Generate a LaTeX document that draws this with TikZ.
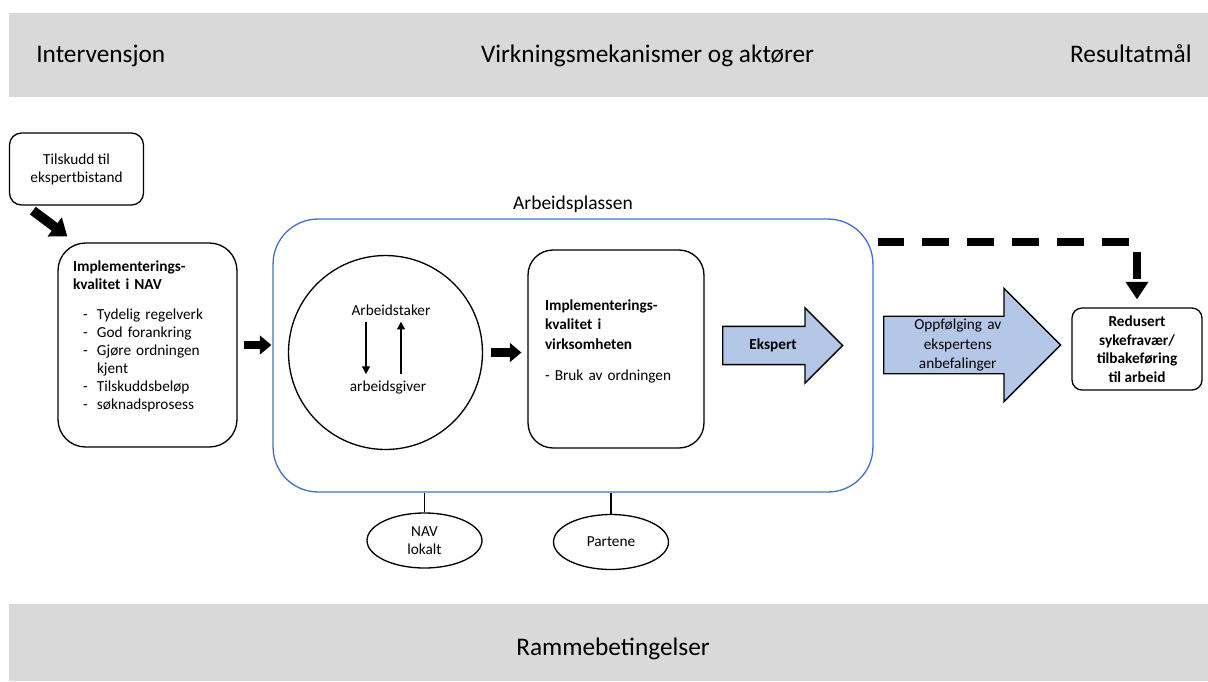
\documentclass[tikz,border=0pt]{standalone}
\usepackage{fontspec}
\setmainfont{Carlito}
\usepackage{tikz}
\usetikzlibrary{arrows.meta, positioning, shapes.geometric, shapes.arrows}
\usepackage{xcolor}

\definecolor{bandgraa}{HTML}{D9D9D9}
\definecolor{rammeblaa}{HTML}{4472C4}
\definecolor{pilblaa}{HTML}{B4C7E7}
\newcommand{\strek}{\hspace*{0.2cm}\makebox[0.28cm][l]{-}}

\begin{document}
\begin{tikzpicture}[
    x=0.02cm, y=-0.02cm,
    every node/.style={font=\fontsize{8.7}{10.2}\selectfont},
    header/.style={font=\fontsize{14.4}{17}\selectfont, anchor=base, inner sep=0pt},
    band/.style={rectangle, fill=bandgraa, minimum width=23.98cm, inner sep=0pt},
    block/.style={rectangle, draw, line width=0.75pt},
    tekstboks/.style={block, align=left, inner xsep=0.3cm},
    sirkel/.style={circle, draw, line width=0.75pt, minimum size=3.88cm, inner sep=0pt},
    aktor/.style={ellipse, draw, line width=0.75pt, minimum width=2.3cm,
                  minimum height=1.1cm, inner sep=0pt, align=center},
    blokkpil/.style={single arrow, draw, line width=0.75pt, fill=pilblaa,
                     single arrow tip angle=90, align=center, anchor=tail},
    arrow/.style={line width=0.85pt, -{Triangle[length=4.5pt, width=4.5pt]}},
    fatarrow/.style={line width=4.8pt, -{Triangle[length=6.5pt, width=10.5pt]}},
    bigarrow/.style={line width=5.5pt, -{Triangle[length=9pt, width=13pt]}},
    dasharrow/.style={line width=4.5pt, dash pattern=on 15.3pt off 10.2pt,
                      -{Triangle[length=10pt, width=12.5pt]}}
]
\useasboundingbox (0,0) rectangle (1208,681);

% Topp og bunn
\node[band, minimum height=1.68cm] (toppband) at (608.5,55) {};
\node[band, minimum height=1.54cm] (bunnband) at (608.5,642.5) {};
\node[header, anchor=base west] (intervensjon) at (36,62) {Intervensjon};
\node[header] (virkning) at (647.5,62) {Virkningsmekanismer og aktører};
\node[header, anchor=base east] (resultatmaal) at (1192,62) {Resultatmål};
\node[header] (ramme) at (613,655) {Rammebetingelser};

% Intervensjon
\node[block, rounded corners=0.24cm, minimum width=2.68cm, minimum height=1.44cm,
      align=center] (tilskudd) at (76.5,169) {Tilskudd til\\ekspertbistand};
\node[tekstboks, rounded corners=0.55cm, text width=2.98cm, minimum height=4.08cm]
      (navboks) at (147.5,345)
      {\textbf{Implementerings-}\\\textbf{kvalitet i NAV}\\[0.24cm]
       \strek Tydelig regelverk\\\strek God forankring\\\strek Gjøre ordningen\\
       \hspace*{0.48cm}kjent\\\strek Tilskuddsbeløp\\\strek søknadsprosess\\[1.2pt]\mbox{}};

% Arbeidsplassen
\node[block, draw=rammeblaa, rounded corners=0.9cm, minimum width=12cm,
      minimum height=5.46cm] (arbeid) at (573,355.5) {};
\node[above=2pt of arbeid, inner sep=1pt, font=\fontsize{11.1}{13}\selectfont]
      (arbeidlabel) {Arbeidsplassen};
\node[sirkel] (parter) at (385.5,352.5) {};
\node (taker) at (391,310) {Arbeidstaker};
\node (giver) at (388,387) {arbeidsgiver};
\node[tekstboks, rounded corners=0.5cm, inner xsep=0.34cm, text width=2.84cm,
      minimum height=3.96cm] (virk) at (616,349)
      {\textbf{Implementerings-}\\[1pt]\textbf{kvalitet i}\\[1pt]\textbf{virksomheten}\\[0.26cm]
       - Bruk av ordningen\\[0pt]\mbox{}};
\node[blokkpil, single arrow head extend=0.37cm, minimum height=2.4cm, text width=1.56cm,
      inner xsep=0.05cm, text height=6.3pt, text depth=1.9pt, inner ysep=6.4pt]
      (ekspert) at (722,345.5) {\textbf{Ekspert}};

% Aktører under
\node[aktor] (navlokalt) at (424.5,540.5) {NAV\\lokalt};
\node[aktor] (partene) at (611,542) {Partene};

% Resultat
\node[blokkpil, single arrow head extend=0.56cm, minimum height=3.54cm, text width=2.26cm,
      inner xsep=0.07cm, inner ysep=1pt] (oppf) at (883,345)
      {Oppfølging av\\[1pt]ekspertens\\[1pt]anbefalinger};
\node[block, rounded corners=0.2cm, minimum width=2.6cm, minimum height=1.64cm,
      align=center, font=\bfseries\fontsize{8.7}{10.6}\selectfont]
      (resultat) at (1137,349) {Redusert\\sykefravær/\\tilbakeføring\\til arbeid};

% Piler
\coordinate (ned) at ([shift={(-25,0)}]taker.south);
\coordinate (opp) at ([shift={(13,0)}]giver.north);
\draw[arrow] (ned) -- (ned |- giver.north);
\draw[arrow] (opp) -- (opp |- taker.south);
\draw[bigarrow] ([shift={(24,5)}]tilskudd.south west) -- ([shift={(10,-6)}]navboks.north west);
\draw[fatarrow, shorten <=3.4pt, shorten >=0.6pt] (navboks.east) -- (navboks.east -| arbeid.west);
\draw[fatarrow, shorten <=4.5pt, shorten >=3.4pt] (parter.east) -- (parter.east -| virk.west);

% Linjer til aktørene
\draw[line width=0.75pt] (navlokalt.north) -- (navlokalt.north |- arbeid.south);
\draw[line width=0.75pt] (partene.north) -- (partene.north |- arbeid.south);

% Stiplet pil til resultatet
\coordinate (strekstart) at ([shift={(4,24)}]arbeid.north east);
\draw[dasharrow] (strekstart) -- (strekstart -| resultat.north)
      -- ([shift={(0,-8)}]resultat.north);

\end{tikzpicture}
\end{document}
